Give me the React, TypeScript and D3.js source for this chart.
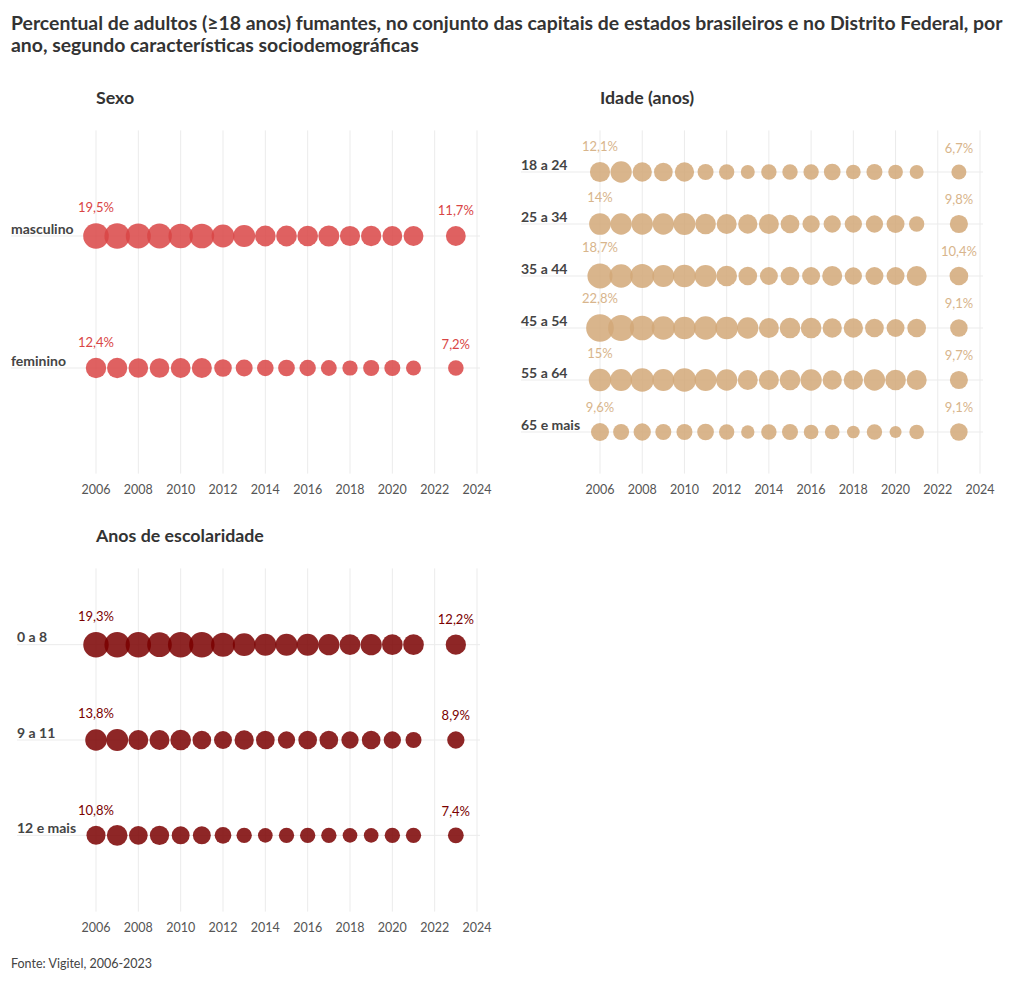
import React from "react";
import * as d3 from "d3";

const years = [2006, 2007, 2008, 2009, 2010, 2011, 2012, 2013, 2014, 2015, 2016, 2017, 2018, 2019, 2020, 2021, 2023];
const axisTicks = [2006, 2008, 2010, 2012, 2014, 2016, 2018, 2020, 2022, 2024];

const sexoCategories = ["masculino", "feminino"];
const masculino = [19.5, 19.4, 18.7, 18.3, 17.9, 18.1, 15.5, 14.4, 12.8, 12.8, 12.7, 13.2, 12.1, 12.3, 11.7, 11.8, 11.7];
const feminino = [12.4, 12.2, 11.5, 11.5, 11.7, 12.0, 9.2, 8.6, 8.2, 8.3, 8.0, 7.5, 6.9, 7.7, 7.6, 6.7, 7.2];

const idadeCategories = ["18 a 24", "25 a 34", "35 a 44", "45 a 54", "55 a 64", "65 e mais"];
const idade18a24 = [12.1, 13.5, 11.1, 10.4, 11.1, 7.6, 7.0, 5.8, 7.0, 7.0, 7.0, 8.3, 6.4, 7.6, 6.4, 5.8, 6.7];
const idade25a34 = [14.0, 13.6, 13.6, 13.6, 14.4, 12.7, 11.9, 11.1, 11.9, 10.4, 8.9, 8.9, 8.9, 8.9, 9.6, 7.0, 9.8];
const idade35a44 = [18.7, 16.2, 17.1, 14.4, 15.3, 14.4, 12.7, 10.4, 9.6, 10.4, 9.6, 11.9, 8.9, 9.6, 9.6, 11.9, 10.4];
const idade45a54 = [22.8, 20.1, 18.1, 16.2, 15.3, 16.2, 15.3, 13.5, 11.9, 12.7, 12.7, 11.1, 11.1, 10.4, 9.6, 10.4, 9.1];
const idade55a64 = [15.0, 14.4, 16.2, 14.4, 16.2, 14.4, 13.5, 11.9, 11.9, 12.7, 13.5, 11.1, 11.1, 13.5, 12.7, 11.9, 9.7];
const idade65mais = [9.6, 7.6, 8.9, 7.6, 7.6, 8.3, 7.0, 5.3, 7.0, 7.6, 6.4, 6.4, 4.8, 7.0, 4.3, 6.4, 9.1];

const escCategories = ["0 a 8", "9 a 11", "12 e mais"];
const esc0a8 = [19.3, 19.3, 19.3, 18.1, 19.3, 19.3, 17.1, 15.3, 14.4, 14.4, 14.4, 13.5, 12.7, 13.5, 12.7, 12.7, 12.2];
const esc9a11 = [13.8, 14.4, 11.9, 11.9, 12.7, 10.4, 9.6, 11.1, 10.4, 8.9, 10.4, 10.4, 8.9, 10.4, 8.9, 7.6, 8.9];
const esc12mais = [10.8, 12.7, 10.4, 11.1, 9.6, 9.6, 8.3, 7.0, 6.4, 7.0, 7.0, 7.0, 6.4, 6.4, 7.0, 7.0, 7.4];

const titleLines = [
  "Percentual de adultos (≥18 anos) fumantes, no conjunto das capitais de estados brasileiros e no Distrito Federal, por",
  "ano, segundo características sociodemográficas",
];
const source = "Fonte: Vigitel, 2006-2023";

const FONT = "Lato, 'Open Sans', sans-serif";

const rScale = d3.scaleSqrt().domain([0, 25]).range([0, 14.5]);

function fmt(v: number) {
  return Number.isInteger(v) ? `${v}%` : `${v.toFixed(1).replace(".", ",")}%`;
}

type PanelProps = {
  title: string;
  categories: string[];
  series: number[][];
  color: string;
  labelColor: string;
  xRange: [number, number];
  yRange: [number, number];
  labelX: number;
  lineEnd: number;
};

function Panel({ title, categories, series, color, labelColor, xRange, yRange, labelX, lineEnd }: PanelProps) {
  const x = d3.scaleLinear().domain([2006, 2024]).range(xRange);
  const y = d3.scalePoint<string>().domain(categories).range(yRange).padding(0.8);
  const last = years.length - 1;
  return (
    <g>
      <text x={xRange[0]} y={yRange[0] - 26} fontSize={17.8} fontWeight={700} fill="#333" fontFamily={FONT}>
        {title}
      </text>
      {axisTicks.map((t) => (
        <g key={t}>
          <line x1={x(t)} x2={x(t)} y1={yRange[0]} y2={yRange[1]} stroke="#ebebeb" strokeWidth={1} />
          <text x={x(t)} y={yRange[1] + 16} fontSize={12.5} fill="#555" textAnchor="middle" dominantBaseline="central" fontFamily={FONT}>
            {t}
          </text>
        </g>
      ))}
      {categories.map((c) => (
        <g key={c}>
          <line x1={labelX} x2={lineEnd} y1={y(c)} y2={y(c)} stroke="#ebebeb" strokeWidth={1} />
          <text x={labelX} y={(y(c) as number) - 8} fontSize={14} fontWeight={700} fill="#444" dominantBaseline="central" fontFamily={FONT}>
            {c}
          </text>
        </g>
      ))}
      {categories.map((c, ci) => (
        <g key={c}>
          {series[ci].map((v, i) => (
            <circle key={i} cx={x(years[i])} cy={y(c)} r={rScale(v)} fill={color} fillOpacity={0.85} />
          ))}
          {[0, last].map((i) => (
            <text
              key={i}
              x={x(years[i])}
              y={(y(c) as number) - rScale(series[ci][i]) - 16}
              fontSize={13}
              fill={labelColor}
              textAnchor="middle"
              dominantBaseline="central"
              fontFamily={FONT}
            >
              {fmt(series[ci][i])}
            </text>
          ))}
        </g>
      ))}
    </g>
  );
}

export default function App() {
  return (
    <svg width={1004} height={975} style={{ display: "block", position: "absolute", left: 0, top: 0 }}>
      <rect width={1004} height={975} fill="#fff" />
      {titleLines.map((t, i) => (
        <text key={i} x={11} y={30 + i * 22} fontSize={19.4} fontWeight={700} fill="#333" fontFamily={FONT}>
          {t}
        </text>
      ))}
      <Panel
        title="Sexo"
        categories={sexoCategories}
        series={[masculino, feminino]}
        color="#d94545"
        labelColor="#d94545"
        xRange={[96, 477]}
        yRange={[130.4, 473.6]}
        labelX={11}
        lineEnd={480}
      />
      <Panel
        title="Idade (anos)"
        categories={idadeCategories}
        series={[idade18a24, idade25a34, idade35a44, idade45a54, idade55a64, idade65mais]}
        color="#d2a878"
        labelColor="#d8b58c"
        xRange={[600, 980]}
        yRange={[130.4, 473.6]}
        labelX={521}
        lineEnd={983}
      />
      <Panel
        title="Anos de escolaridade"
        categories={escCategories}
        series={[esc0a8, esc9a11, esc12mais]}
        color="#7a0000"
        labelColor="#7a0000"
        xRange={[96, 477]}
        yRange={[568.4, 911.6]}
        labelX={17}
        lineEnd={480}
      />
      <text x={11} y={963} fontSize={12.5} fill="#444" dominantBaseline="central" fontFamily={FONT}>
        {source}
      </text>
    </svg>
  );
}
